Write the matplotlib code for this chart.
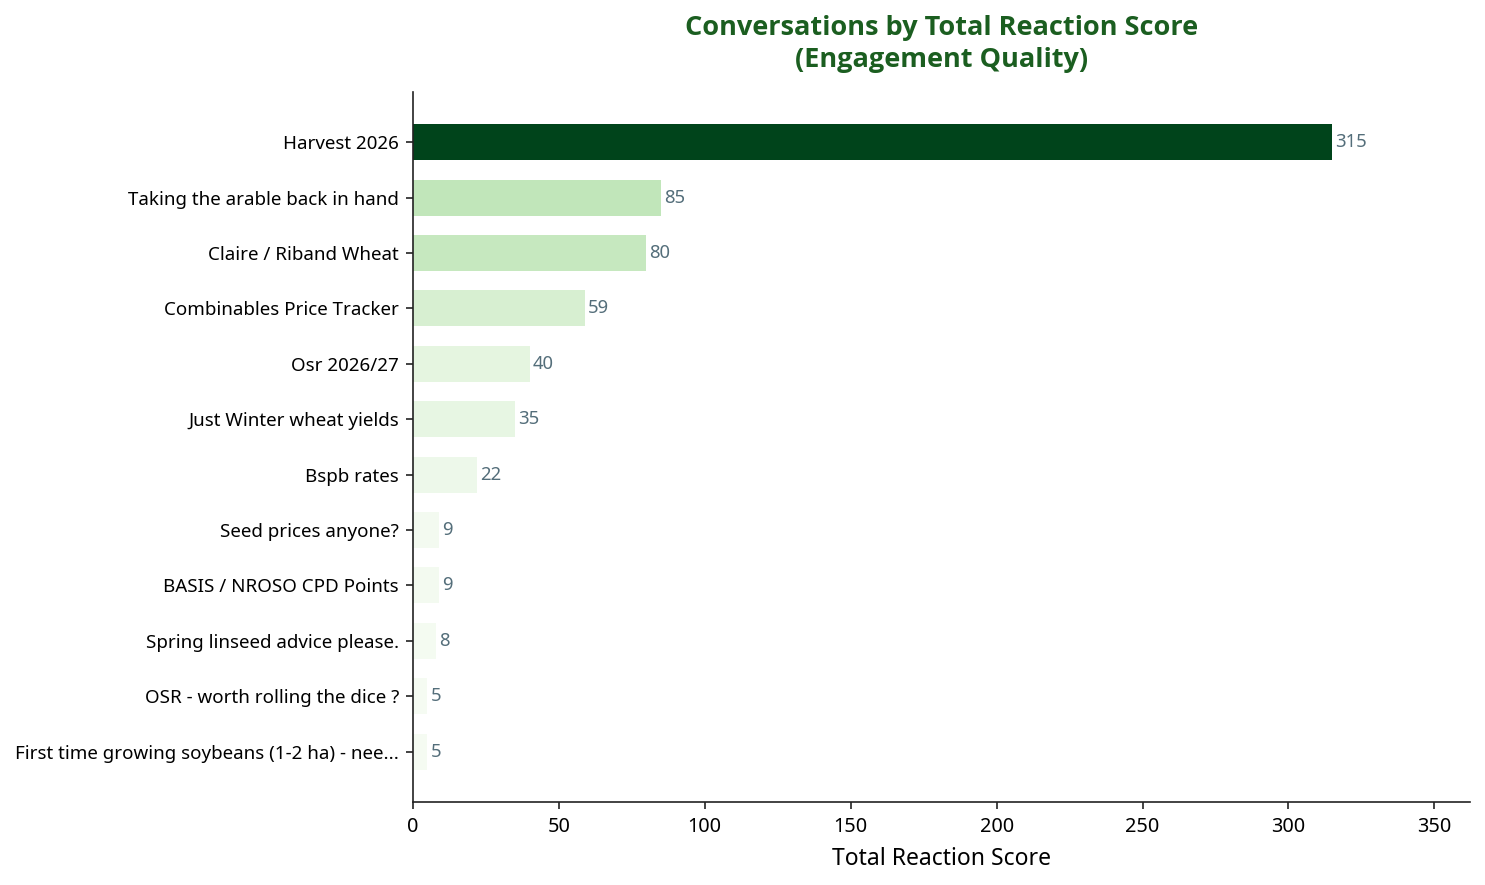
import matplotlib
matplotlib.use("Agg")
import matplotlib.pyplot as plt
from matplotlib import cm, colors
import numpy as np

plt.rcParams['font.family'] = ['Noto Sans', 'DejaVu Sans']

categories = [
    "Harvest 2026",
    "Taking the arable back in hand",
    "Claire / Riband Wheat",
    "Combinables Price Tracker",
    "Osr 2026/27",
    "Just Winter wheat yields",
    "Bspb rates",
    "Seed prices anyone?",
    "BASIS / NROSO CPD Points",
    "Spring linseed advice please.",
    "OSR - worth rolling the dice ?",
    "First time growing soybeans (1-2 ha) - nee...",
]
scores = [315, 85, 80, 59, 40, 35, 22, 9, 9, 8, 5, 5]

fig, ax = plt.subplots(figsize=(14.85, 8.85), dpi=100)
fig.subplots_adjust(left=0.278, right=0.99, top=0.896, bottom=0.094)

norm = colors.Normalize(vmin=0, vmax=max(scores))
bar_colors = [cm.Greens(norm(v)) for v in scores]

y = np.arange(len(categories))
ax.barh(y, scores, height=0.65, color=bar_colors)
ax.invert_yaxis()
ax.set_yticks(y)
ax.set_yticklabels(categories, fontsize=13.5)
ax.set_xlim(0, max(scores) * 1.15)
ax.tick_params(axis='x', labelsize=14.3, length=5, width=1.2, pad=6, color='#222222')
ax.tick_params(axis='y', length=5, width=1.2, pad=5, color='#222222')

for yi, v in zip(y, scores):
    ax.text(v + 1, yi, f"{v}", va='center', ha='left', fontsize=13.3, color='#546e7a')

ax.set_xlabel("Total Reaction Score", fontsize=16.5, labelpad=7)
ax.set_title("Conversations by Total Reaction Score\n(Engagement Quality)",
             fontsize=19.5, fontweight='bold', color='#1b5e20', pad=18,
             family=['Open Sans', 'DejaVu Sans'], linespacing=1.3)
ax.spines['top'].set_visible(False)
ax.spines['right'].set_visible(False)
for s in ('left', 'bottom'):
    ax.spines[s].set_linewidth(1.2)
    ax.spines[s].set_color('#222222')

fig.savefig("out.png", dpi=100)
